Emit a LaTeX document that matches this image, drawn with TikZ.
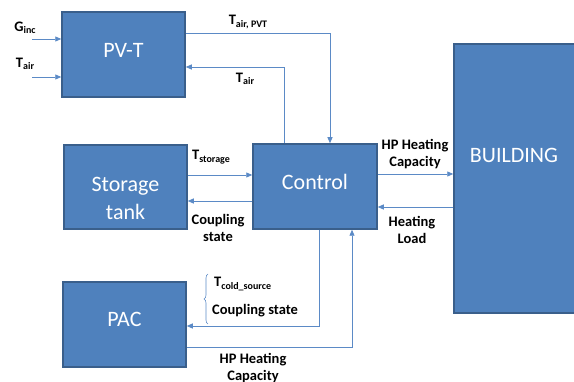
\documentclass[tikz,border=0pt]{standalone}
\usepackage{fontspec}
\setmainfont{Carlito}
\usetikzlibrary{arrows.meta,decorations.pathreplacing}
\definecolor{boxfill}{HTML}{4F81BD}
\definecolor{boxborder}{HTML}{3A5F8B}
\definecolor{linecol}{HTML}{5B8AC6}
\newcommand\Tsb[2]{#1\raisebox{-2.5pt}{\fontsize{10}{11}\selectfont #2}}
\begin{document}
\begin{tikzpicture}[x=1pt,y=-1pt,
  box/.style={draw=boxborder, fill=boxfill, line width=1.5pt, inner sep=0pt},
  boxtxt/.style={text=white, font=\fontsize{22}{28}\selectfont, align=center, inner sep=0pt},
  lab/.style={font=\fontsize{14.5}{17}\selectfont\bfseries, align=center, inner sep=0pt},
  ln/.style={draw=linecol, line width=0.8pt},
  arr/.style={ln, -{Triangle[length=6pt,width=5pt]}}]
\useasboundingbox (0,0) rectangle (574,382);
% boxes
\node[box, minimum width=123pt, minimum height=85pt] (pvt) at (123.5,54.5) {};
\node[box, minimum width=123pt, minimum height=84pt] (storage) at (125.5,187) {};
\node[box, minimum width=124pt, minimum height=85pt] (control) at (315,186.5) {};
\node[box, minimum width=123pt, minimum height=85pt] (pac) at (124.5,324.5) {};
\node[box, minimum width=124pt, minimum height=269pt] (building) at (516,178.5) {};
\node[boxtxt] (pvtT) at (123.5,50) {PV-T};
\node[boxtxt] (storageT) at (125.5,198) {Storage\\tank};
\node[boxtxt] (controlT) at (315,181.5) {Control};
\node[boxtxt] (pacT) at (124.5,319) {PAC};
\node[boxtxt] (buildingT) at (514,155.5) {BUILDING};
% coordinates
\coordinate (g0) at (32,39);
\coordinate (t0) at (32,77);
\coordinate (c1) at (330,33);
\coordinate (c2) at (284,67);
\coordinate (s1) at (0,175);
\coordinate (s2) at (0,201);
\coordinate (h1) at (0,174);
\coordinate (h2) at (0,207);
\coordinate (p1) at (319,326);
\coordinate (p2) at (352,347);
% connectors
\draw[arr] (g0) -- (g0 -| pvt.west);
\draw[arr] (t0) -- (t0 -| pvt.west);
\draw[arr] (c1 -| pvt.east) -- (c1) -- (c1 |- control.north);
\draw[arr] (c2 |- control.north) -- (c2) -- (c2 -| pvt.east);
\draw[arr] (s1 -| storage.east) -- (s1 -| control.west);
\draw[arr] (s2 -| control.west) -- (s2 -| storage.east);
\draw[arr] (h1 -| control.east) -- (h1 -| building.west);
\draw[arr] (h2 -| building.west) -- (h2 -| control.east);
\draw[arr] (p1 |- control.south) -- (p1) -- (p1 -| pac.east);
\draw[arr] (p2 -| pac.east) -- (p2) -- (p2 |- control.south);
\draw[ln, line width=0.6pt, decorate, decoration={brace, amplitude=4pt}] (208,324) -- (208,274);
% labels
\node[lab] (lg) at (25,28) {\Tsb{G}{inc}};
\node[lab] (lt) at (25,64) {\Tsb{T}{air}};
\node[lab] (ltp) at (248,22) {\Tsb{T}{air, PVT}};
\node[lab] (ltm) at (245,79) {\Tsb{T}{air}};
\node[lab] (lts) at (211,157) {\Tsb{T}{storage}};
\node[lab] (lcs) at (218,228) {Coupling\\state};
\node[lab] (lhp) at (415,154) {HP Heating\\Capacity};
\node[lab] (lhl) at (412,230) {Heating\\Load};
\node[lab, anchor=west] (ltc) at (214,284) {\Tsb{T}{cold\_source}};
\node[lab, anchor=west] (lcs2) at (212,311) {Coupling state};
\node[lab] (lhp2) at (253,368) {HP Heating\\Capacity};
\end{tikzpicture}
\end{document}
